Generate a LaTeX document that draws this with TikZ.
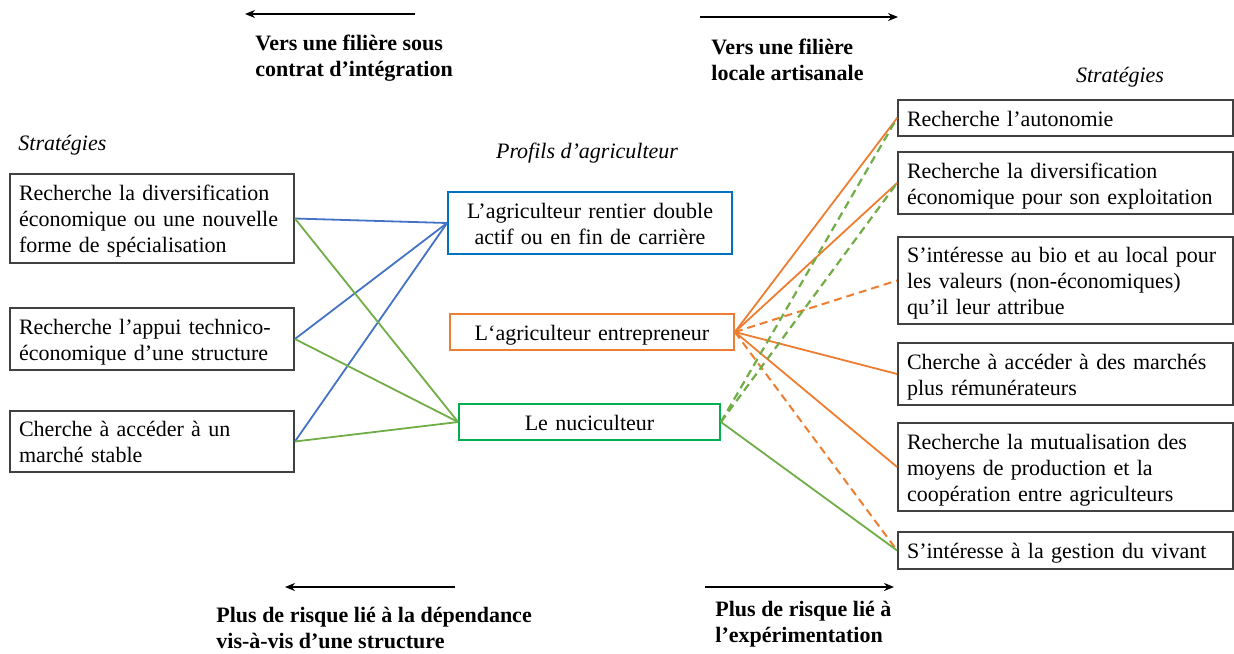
\documentclass[tikz,border=0pt]{standalone}
\usepackage{fontspec}
\setmainfont{Liberation Serif}
\usetikzlibrary{arrows.meta}
\definecolor{cblue}{HTML}{4472C4}
\definecolor{bblue}{HTML}{0070C0}
\definecolor{corange}{HTML}{ED7D31}
\definecolor{cgreen}{HTML}{70AD47}
\definecolor{bgreen}{HTML}{00B050}
\definecolor{cgray}{HTML}{404040}
\tikzset{
  every node/.style={font=\fontsize{11}{13}\selectfont},
  sbox/.style={draw=cgray, line width=0.9pt, inner xsep=4.5pt, inner ysep=0pt, align=left},
  pbox/.style={line width=0.9pt, inner xsep=4.5pt, inner ysep=0pt, align=center},
  oneline/.style={text height=12pt, text depth=4pt},
  twoline/.style={text height=12pt, text depth=17pt},
  threeline/.style={text height=12pt, text depth=30pt},
  lbl/.style={inner sep=0pt, align=left},
  hdr/.style={lbl, font=\fontsize{11}{13}\selectfont\bfseries},
  ttl/.style={inner sep=0pt, font=\fontsize{11}{13}\selectfont\itshape},
  bl/.style={draw=cblue, line width=0.9pt},
  gl/.style={draw=cgreen, line width=0.9pt},
  gd/.style={draw=cgreen, line width=1.1pt, dash pattern=on 4pt off 2.5pt},
  ol/.style={draw=corange, line width=0.9pt},
  od/.style={draw=corange, line width=1pt, dash pattern=on 4pt off 2.5pt},
  dirarrow/.style={draw=black, line width=1pt, -{Stealth[length=5pt,width=4pt]}}
}
\begin{document}
\begin{tikzpicture}[x=0.5pt,y=-0.5pt]
\useasboundingbox (0,0) rectangle (1234,653);

% left strategies
\node[ttl, anchor=west] (tl) at (18,145.5) {Stratégies};
\node[sbox, threeline, text width=133pt, minimum height=44.5pt] (L1) at (152,218.5)
  {Recherche la diversification\\économique ou une nouvelle\\forme de spécialisation};
\node[sbox, twoline, text width=133pt, minimum height=31pt] (L2) at (152,339)
  {Recherche l’appui technico-\\économique d’une structure};
\node[sbox, twoline, text width=133pt, minimum height=30.5pt] (L3) at (152,441.5)
  {Cherche à accéder à un\\marché stable};

% profiles
\node[ttl] (tp) at (587,153.5) {Profils d’agriculteur};
\node[pbox, twoline, draw=bblue, text width=133pt, minimum height=31pt] (M1) at (590,223)
  {L’agriculteur rentier double\\actif ou en fin de carrière};
\node[pbox, oneline, draw=corange, text width=133pt, minimum height=18pt] (M2) at (592,332)
  {L‘agriculteur entrepreneur};
\node[pbox, oneline, draw=bgreen, text width=121.5pt, minimum height=18pt] (M3) at (589.5,422)
  {Le nuciculteur};

% right strategies
\node[ttl] (tr) at (1120,77.5) {Stratégies};
\node[sbox, oneline, text width=158.5pt, minimum height=18pt] (R1) at (1065.5,118)
  {Recherche l’autonomie};
\node[sbox, twoline, text width=158.5pt, minimum height=31pt] (R2) at (1065.5,183)
  {Recherche la diversification\\économique pour son exploitation};
\node[sbox, threeline, text width=158.5pt, minimum height=43.5pt] (R3) at (1065.5,280.5)
  {S’intéresse au bio et au local pour\\les valeurs (non-économiques)\\qu’il leur attribue};
\node[sbox, twoline, text width=158.5pt, minimum height=31pt] (R4) at (1065.5,374)
  {Cherche à accéder à des marchés\\plus rémunérateurs};
\node[sbox, threeline, text width=158.5pt, minimum height=44pt] (R5) at (1065.5,467)
  {Recherche la mutualisation des\\moyens de production et la\\coopération entre agriculteurs};
\node[sbox, oneline, text width=158.5pt, minimum height=18.5pt] (R6) at (1065.5,550.5)
  {S’intéresse à la gestion du vivant};

% left connectors
\draw[bl] (L1.east) -- (M1.west);
\draw[bl] (L2.east) -- (M1.west);
\draw[bl] (L3.east) -- (M1.west);
\draw[gl] (L1.east) -- (M3.west);
\draw[gl] (L2.east) -- (M3.west);
\draw[gl] (L3.east) -- (M3.west);

% right connectors
\draw[ol] (M2.east) -- (R1.west);
\draw[ol] (M2.east) -- (R2.west);
\draw[od] (M2.east) -- (R3.west);
\draw[ol] (M2.east) -- (R4.west);
\draw[ol] (M2.east) -- (R5.west);
\draw[od] (M2.east) -- (R6.west);
\draw[gd] (M3.east) -- (R1.west);
\draw[gd] (M3.east) -- (R2.west);
\draw[gl] (M3.east) -- (R6.west);

% direction arrows and headings
\coordinate (a1s) at (415,14); \coordinate (a1e) at (245,14);
\draw[dirarrow] (a1s) -- (a1e);
\node[hdr, anchor=west] (h1) at (255,58.5) {Vers une filière sous\\contrat d’intégration};
\coordinate (a2s) at (700,17); \coordinate (a2e) at (898,17);
\draw[dirarrow] (a2s) -- (a2e);
\node[hdr, anchor=west] (h2) at (711,59.5) {Vers une filière\\locale artisanale};
\coordinate (a3s) at (455,587); \coordinate (a3e) at (285,587);
\draw[dirarrow] (a3s) -- (a3e);
\node[hdr, anchor=west] (h3) at (216,627.5) {Plus de risque lié à la dépendance\\vis-à-vis d’une structure};
\coordinate (a4s) at (705,587); \coordinate (a4e) at (894,587);
\draw[dirarrow] (a4s) -- (a4e);
\node[hdr, anchor=west] (h4) at (715,624.5) {Plus de risque lié à\\l’expérimentation};
\end{tikzpicture}
\end{document}
